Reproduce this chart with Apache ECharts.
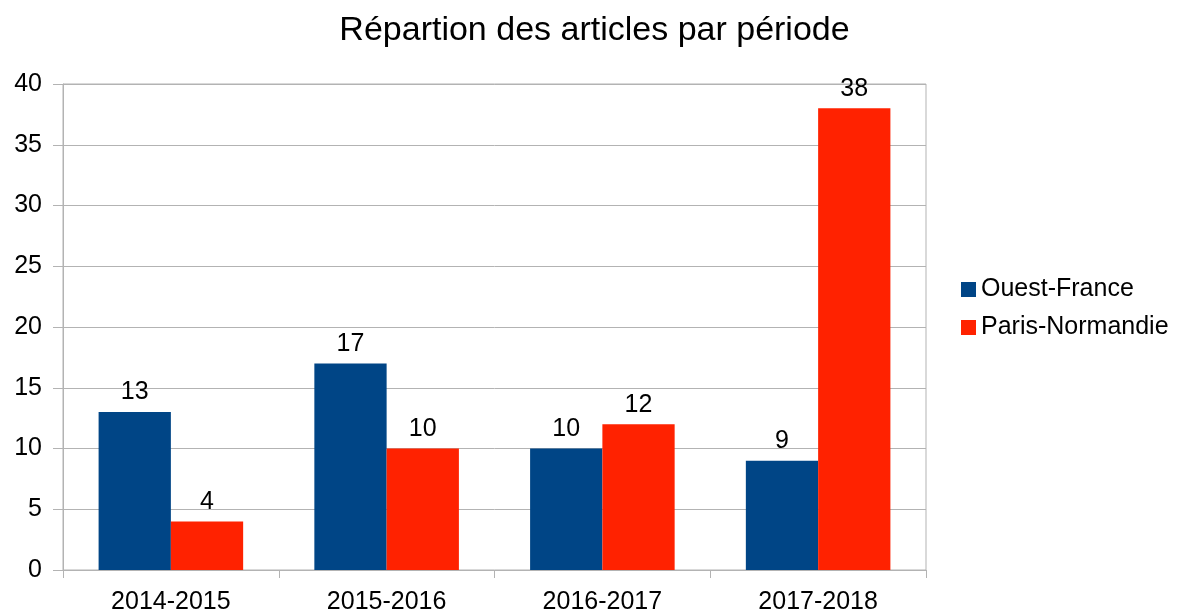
<!DOCTYPE html>
<html>
<head>
<meta charset="utf-8">
<script src="https://cdn.jsdelivr.net/npm/echarts@6/dist/echarts.min.js"></script>
<style>
	html, body { margin: 0; padding: 0; background: #fff; }
	#main { width: 1189px; height: 615px; }
</style>
</head>
<body>
<div id="main"></div>
<script>
var periodes = ['2014-2015', '2015-2016', '2016-2017', '2017-2018'];
var ouestFrance = [13, 17, 10, 9];
var parisNormandie = [4, 10, 12, 38];

var police = 'Liberation Sans';
var gris = '#b3b3b3';

function serie(nom, donnees, couleur) {
	return {
		name: nom,
		type: 'bar',
		data: donnees,
		barGap: 0,
		barCategoryGap: '33%',
		itemStyle: { color: couleur },
		label: {
			show: true,
			position: 'top',
			distance: 7,
			color: '#000',
			fontFamily: police,
			fontSize: 25
		}
	};
}

var myChart = echarts.init(document.getElementById('main'));
var option = {
	animation: false,
	title: {
		text: 'Répartion des articles par période',
		left: 'center',
		top: 9,
		textStyle: { fontFamily: police, fontSize: 34, fontWeight: 'normal', color: '#000' }
	},
	legend: {
		orient: 'vertical',
		left: 956,
		top: 272,
		itemWidth: 15,
		itemHeight: 15,
		itemGap: 13,
		icon: 'rect',
		textStyle: { fontFamily: police, fontSize: 25, color: '#000' },
		data: ['Ouest-France', 'Paris-Normandie']
	},
	grid: {
		left: 63,
		right: 263,
		top: 84,
		bottom: 43,
		show: true,
		borderColor: gris,
		borderWidth: 1
	},
	xAxis: {
		type: 'category',
		data: periodes,
		axisLine: { lineStyle: { color: gris } },
		axisTick: { show: true, length: 8, lineStyle: { color: gris } },
		axisLabel: { fontFamily: police, fontSize: 25, color: '#000', margin: 20 }
	},
	yAxis: {
		type: 'value',
		min: 0,
		max: 40,
		interval: 5,
		axisLine: { show: true, lineStyle: { color: gris } },
		axisTick: { show: true, length: 10, lineStyle: { color: gris } },
		splitLine: { lineStyle: { color: gris } },
		axisLabel: { fontFamily: police, fontSize: 25, color: '#000', margin: 21 }
	},
	series: [
		serie('Ouest-France', ouestFrance, '#004586'),
		serie('Paris-Normandie', parisNormandie, '#ff2200')
	]
};
myChart.setOption(option);
</script>
</body>
</html>
